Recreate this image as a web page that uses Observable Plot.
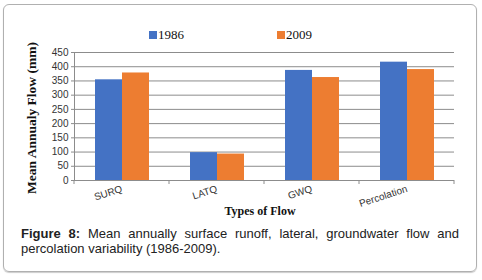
<!DOCTYPE html>
<html>
<head>
<meta charset="utf-8">
<script src="https://cdn.jsdelivr.net/npm/d3@7"></script>
<script src="https://cdn.jsdelivr.net/npm/@observablehq/plot@0.6"></script>
<style>
  html, body { margin: 0; padding: 0; background: #fff; }
  #wrap { position: relative; width: 482px; height: 280px; overflow: hidden; }
  #box { position: absolute; left: 3px; top: 4px; width: 472px; height: 266px;
         border: 1px solid #b0b0b0; border-radius: 6px; box-shadow: 0 1px 1px #ccc; }
  #chart { position: absolute; left: 0; top: 0; }
  .leg { position: absolute; top: 27px; font-family: "Liberation Serif", "DejaVu Serif", serif;
         font-size: 13px; color: #111; display: flex; align-items: center; }
  .leg span.sw { display: inline-block; width: 8px; height: 8px; margin-right: 1px; }
  #ytitle { position: absolute; left: 32px; top: 118px; transform: translate(-50%, -50%) rotate(-90deg);
            font-family: "Liberation Serif", serif; font-weight: bold; font-size: 13.5px; white-space: nowrap; color: #111; }
  #xtitle { position: absolute; left: 260px; top: 204px; transform: translateX(-50%);
            font-family: "Liberation Serif", serif; font-weight: bold; font-size: 12px; white-space: nowrap; color: #111; }
  #caption { position: absolute; left: 21px; top: 226px; width: 438px;
             font-family: "Liberation Sans", Arial, sans-serif; font-size: 13px; line-height: 15px; color: #222; }
  #caption .l1 { text-align: justify; text-align-last: justify; white-space: nowrap; display: flex; justify-content: space-between; }
  #caption .l2 { white-space: nowrap; }
</style>
</head>
<body>
<div id="wrap">
  <div id="box"></div>
  <div id="chart"></div>
  <div id="legend"></div>
  <div id="ytitle">Mean Annualy Flow (mm)</div>
  <div id="xtitle">Types of Flow</div>
  <div id="caption">
    <div class="l1"></div>
    <div class="l2">percolation variability (1986-2009).</div>
  </div>
</div>
<script>
const categories = ["SURQ", "LATQ", "GWQ", "Percolation"];
const years = ["1986", "2009"];
const values1986 = [354, 98, 387, 416];
const values2009 = [378, 93, 362, 390];
const yTicks = [0, 50, 100, 150, 200, 250, 300, 350, 400, 450];
const colors = ["#4472C4", "#ED7D31"];

const data = [];
categories.forEach((c, i) => {
  data.push({category: c, year: years[0], value: values1986[i]});
  data.push({category: c, year: years[1], value: values2009[i]});
});

const gridColor = "#8c8c8c";

const plot = Plot.plot({
  width: 482,
  height: 220,
  marginTop: 52,
  marginBottom: 40,
  marginLeft: 73,
  marginRight: 27,
  style: {fontFamily: "'Liberation Sans', Arial, sans-serif", fontSize: "10px", background: "transparent", overflow: "visible"},
  fx: {domain: categories, padding: 0, label: null},
  x: {domain: years, paddingInner: 0, paddingOuter: 0.74, axis: null},
  y: {domain: [0, 450], label: null},
  color: {domain: years, range: colors},
  marks: [
    Plot.gridY(yTicks, {stroke: gridColor, strokeOpacity: 1}),
    Plot.barY(data, {fx: "category", x: "year", y: "value", fill: "year"}),
    Plot.ruleY([0], {stroke: gridColor}),
    Plot.frame({anchor: "left", facetAnchor: "left", stroke: gridColor}),
    Plot.axisY(yTicks, {tickSize: 3, tickPadding: 3, label: null, stroke: gridColor, fill: "#333"}),
    Plot.axisFx({anchor: "bottom", tickSize: 0, tickPadding: 8, tickRotate: -18, label: null, fill: "#333"})
  ]
});
document.getElementById("chart").appendChild(plot);

// category boundary ticks below the baseline, from the fx scale
const fx = plot.scale("fx");
const y = plot.scale("y");
const edges = categories.map(c => fx.apply(c));
edges.push(fx.apply(categories[categories.length - 1]) + fx.step);
const y0 = y.apply(0);
d3.select(plot).append("g")
  .selectAll("line").data(edges).join("line")
  .attr("x1", d => d).attr("x2", d => d)
  .attr("y1", y0).attr("y2", y0 + 4)
  .attr("stroke", gridColor);

// legend
const leg = document.getElementById("legend");
const legX = [149, 277];
years.forEach((yr, i) => {
  const d = document.createElement("div");
  d.className = "leg";
  d.style.left = legX[i] + "px";
  d.innerHTML = `<span class="sw" style="background:${colors[i]}"></span>${yr}`;
  leg.appendChild(d);
});

// caption first line: words spread across the full width (justified)
const line1 = ["<b>Figure</b>", "<b>8:</b>", "Mean", "annually", "surface", "runoff,", "lateral,", "groundwater", "flow", "and"];
document.querySelector("#caption .l1").innerHTML = line1.map(w => `<span>${w}</span>`).join("");
</script>
</body>
</html>
